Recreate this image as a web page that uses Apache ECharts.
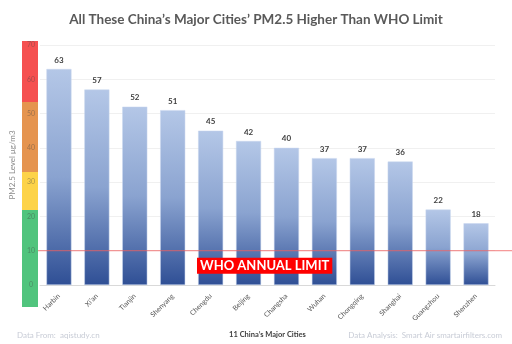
<!DOCTYPE html>
<html><head><meta charset="utf-8">
<script src="https://cdn.jsdelivr.net/npm/echarts@6/dist/echarts.min.js"></script>
<style>html,body{margin:0;padding:0;background:#fff}#c{width:512px;height:344px}</style>
</head><body><div id="c"></div>
<script>
const cities = ['Harbin','Xi\u2019an','Tianjin','Shenyang','Chengdu','Beijing','Changsha','Wuhan','Chongqing','Shanghai','Guangzhou','Shenzhen'];
const pm25 = [63,57,52,51,45,42,40,37,37,36,22,18];
const yTicks = [0,10,20,30,40,50,60,70];
const whoLimit = 10;

const chart = echarts.init(document.getElementById('c'));
const font = 'Lato, "Open Sans", sans-serif';
chart.setOption({
  animation:false,
  title:{text:'All These China\u2019s Major Cities\u2019 PM2.5 Higher Than WHO Limit',left:'center',top:8,
    textStyle:{fontFamily:font,fontSize:13.5,fontWeight:'bold',color:'#595959'}},
  grid:{left:38,right:17,top:45,bottom:52},
  xAxis:{type:'category',data:cities,
    axisLine:{lineStyle:{color:'#d9d9d9'}},axisTick:{show:false},
    axisLabel:{rotate:45,fontSize:7,color:'#595959',fontFamily:font,margin:10,interval:0},
    name:'11 China\u2019s Major Cities',nameLocation:'middle',nameGap:46,
    nameTextStyle:{fontSize:7.5,fontWeight:'bold',color:'#404040',fontFamily:font}},
  yAxis:{type:'value',min:yTicks[0],max:yTicks[yTicks.length-1],interval:10,
    axisLine:{show:false},axisTick:{show:false},
    splitLine:{lineStyle:{color:'#f0f0f0'}},
    axisLabel:{fontSize:7,color:'rgba(70,70,70,0.45)',align:'center',margin:9,fontFamily:font},
    name:'PM2.5 Level \u03bcg/m3',nameLocation:'middle',nameGap:24,nameRotate:90,
    nameTextStyle:{fontSize:8,color:'#8c8c8c',fontFamily:font}},
  series:[{type:'bar',data:pm25,barWidth:'66%',
    itemStyle:{color:new echarts.graphic.LinearGradient(0,0,0,1,[{offset:0,color:'#b4c7e7'},{offset:0.5,color:'#8aa3d0'},{offset:1,color:'#2f4f95'}]),
      borderColor:'#c9d6ee',borderWidth:0.5},
    label:{show:true,position:'top',fontSize:8,fontWeight:'bold',color:'#404040',fontFamily:font,distance:5}
  }]
});
const yWho = chart.convertToPixel({yAxisIndex:0}, whoLimit);
chart.setOption({graphic:[
  {type:'rect',shape:{x:22,y:41,width:16,height:61},style:{fill:'#f55050'},z:-1},
  {type:'rect',shape:{x:22,y:102,width:16,height:70},style:{fill:'#e5944f'},z:-1},
  {type:'rect',shape:{x:22,y:172,width:16,height:38},style:{fill:'#fdd348'},z:-1},
  {type:'rect',shape:{x:22,y:210,width:16,height:97},style:{fill:'#50c47d'},z:-1},
  {type:'line',shape:{x1:38,y1:yWho,x2:512,y2:yWho},style:{stroke:'#f06060',lineWidth:0.8},z:10},
  {type:'text',left:197,top:yWho+7,z:11,style:{text:'WHO ANNUAL LIMIT',fill:'#fff',fontSize:13,fontWeight:'bold',fontFamily:font,
    backgroundColor:'#ff0000',padding:[2,3,1,3]}},
  {type:'text',left:17,top:331,style:{text:'Data From:  aqistudy.cn',fill:'#c8ccd6',fontSize:8,fontFamily:font}},
  {type:'text',right:10,top:331,style:{text:'Data Analysis:  Smart Air smartairfilters.com',fill:'#c8ccd6',fontSize:8,fontFamily:font}}
]});
</script></body></html>
